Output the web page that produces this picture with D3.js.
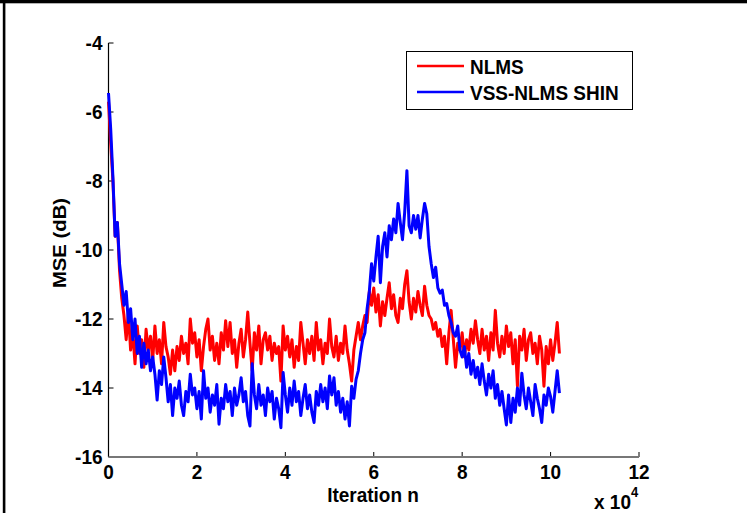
<!DOCTYPE html>
<html>
<head>
<meta charset="utf-8">
<script src="https://cdn.jsdelivr.net/npm/d3@7"></script>
<style>
  html, body { margin: 0; padding: 0; background: #fff; }
  svg { display: block; }
  text { font-family: "Liberation Sans", Arial, Helvetica, sans-serif; font-weight: bold; fill: #000; }
</style>
</head>
<body>
<svg id="chart" width="747" height="513"></svg>
<script>
// Sampling interval of the learning curves (iterations, in units of 10^4)
const sampleStep = 0.05;

// MSE (dB) of the standard NLMS filter
const nlmsMse = [
  -5.7, -6.9, -8.0, -9.6, -9.2, -10.6, -11.4, -11.9, -12.6, -11.8,
  -12.9, -12.4, -13.3, -12.2, -13.0, -12.6, -13.4, -12.3, -12.9, -12.5,
  -13.2, -12.2, -13.0, -12.6, -13.3, -12.1, -12.8, -13.1, -13.6, -12.9,
  -13.5, -12.8, -13.2, -12.5, -13.0, -12.7, -13.3, -12.0, -12.7, -12.4,
  -13.1, -12.6, -13.5, -12.8, -12.3, -12.0, -12.9, -12.5, -13.2, -12.7,
  -13.3, -12.4, -12.9, -12.05, -12.8, -12.1, -13.0, -12.6, -13.4, -12.7,
  -12.3, -13.1, -12.6, -11.8, -12.7, -13.5, -12.4, -12.9, -12.2, -13.3,
  -12.6, -12.4, -12.9, -12.5, -13.2, -12.7, -13.0, -12.8, -13.8, -12.2,
  -12.9, -12.5, -13.1, -12.6, -13.4, -12.8, -13.2, -12.1, -12.7, -13.3,
  -12.6, -13.0, -12.5, -13.2, -12.1, -12.9, -12.6, -13.3, -12.7, -13.0,
  -12.0, -12.8, -13.1, -12.5, -13.2, -12.7, -13.0, -12.2, -12.9, -13.3,
  -13.8, -12.9, -12.5, -12.1, -12.6, -12.2, -11.9, -12.1, -11.2, -11.6,
  -11.1, -11.8, -11.3, -12.2, -11.5, -11.9, -11.4, -10.95, -11.7, -11.3,
  -11.9, -12.1, -11.4, -11.7, -11.0, -10.6, -11.5, -12.0, -11.4, -11.8,
  -11.2, -11.6, -11.9, -11.05, -11.6, -11.9, -12.0, -12.3, -12.1, -12.5,
  -12.3, -12.8, -12.5, -13.3, -12.4, -11.75, -12.6, -13.4, -12.7, -12.9,
  -12.4, -13.1, -12.6, -12.9, -12.3, -12.7, -12.05, -12.6, -13.0, -12.3,
  -12.9, -12.5, -13.2, -12.4, -12.9, -11.75, -12.7, -13.1, -12.5, -13.0,
  -12.2, -12.8, -12.4, -13.3, -12.6, -13.95, -12.5, -12.9, -12.3, -13.2,
  -12.6, -12.4, -13.0, -12.7, -13.3, -12.5, -12.9, -13.95, -12.8, -13.3,
  -12.6, -13.2, -12.7, -12.1, -13.0
];

// MSE (dB) of the variable step-size NLMS (Shin)
const vssMse = [
  -5.45, -6.5, -7.9, -9.6, -9.2, -10.4, -11.0, -11.6, -11.2, -12.1,
  -11.7, -12.6, -12.0, -13.0, -12.5, -13.4, -12.7, -13.3, -12.9, -13.5,
  -13.1, -13.6, -14.35, -13.5, -13.9, -13.1, -13.7, -14.4, -13.9, -14.8,
  -14.0, -14.3, -13.8, -14.5, -14.8, -14.1, -14.4, -13.6, -14.2, -14.0,
  -14.6, -14.1, -14.9, -13.5, -14.3, -14.0, -14.7, -14.2, -14.5, -13.9,
  -15.05, -14.3, -14.6, -13.9, -14.4, -14.1, -14.8, -14.0, -14.5, -14.2,
  -13.7, -14.4, -14.1, -14.8, -15.1, -13.3, -14.2, -14.6, -13.9, -14.5,
  -14.2, -14.8, -14.0, -14.4, -14.1, -14.9, -14.3, -14.6, -15.15, -13.55,
  -14.2, -14.7, -14.0, -14.5, -13.8, -14.4, -14.1, -14.8, -14.3, -13.9,
  -14.6, -14.2, -14.7, -15.0, -14.1, -14.5, -13.9, -14.4, -14.0, -14.6,
  -13.65, -14.2, -13.7, -14.5, -14.1, -14.7, -14.3, -14.9, -14.4, -15.1,
  -13.95, -14.3, -13.75, -13.5, -13.0, -12.6, -12.4, -11.7, -11.2, -10.4,
  -10.9, -10.2, -9.6, -10.95, -9.9, -9.5, -10.2, -9.3, -9.7, -9.1,
  -9.5, -8.65, -9.2, -9.7, -8.9, -7.7, -9.3, -9.5, -9.0, -9.4,
  -9.0, -9.65, -9.1, -8.65, -8.95, -9.9, -10.4, -10.8, -10.5, -11.1,
  -11.25, -11.16, -11.6, -11.55, -11.9, -12.1, -12.4, -12.5, -12.2, -12.9,
  -13.1, -12.8, -13.4, -13.0, -13.6, -13.2, -13.7, -13.4, -13.9, -13.3,
  -13.8, -14.2, -13.6, -14.0, -13.5, -14.3, -13.9, -14.5, -14.1, -14.6,
  -15.07, -14.2, -15.0, -14.3, -14.7, -14.0, -14.5, -13.57, -14.2, -14.6,
  -14.0, -14.4, -14.8, -13.9, -14.3, -14.6, -15.0, -14.2, -14.5, -14.0,
  -14.25, -14.7, -14.1, -13.5, -14.15
];

const seriesNames = ["NLMS", "VSS-NLMS SHIN"];
const seriesColors = ["#ff0000", "#0000ff"];
const xTicks = [0, 2, 4, 6, 8, 10, 12];
const yTicks = [-16, -14, -12, -10, -8, -6, -4];

const svg = d3.select("#chart");
// glyphs are drawn slightly taller than wide
const stretch = 1.07;
function label(parent, px, py, str, anchor, rot) {
  return parent.append("text")
    .attr("transform", `translate(${px},${py})${rot ? " rotate(" + rot + ")" : ""} scale(${rot ? stretch + ",1" : "1," + stretch})`)
    .attr("text-anchor", anchor).attr("font-size", 19).text(str);
}

// figure frame edges
svg.append("rect").attr("x", 0).attr("y", 0).attr("width", 747).attr("height", 3.3).attr("fill", "#000");
svg.append("rect").attr("x", 2.8).attr("y", 0).attr("width", 2.6).attr("height", 513).attr("fill", "#000");

const x = d3.scaleLinear().domain([0, 12]).range([108.5, 639]);
const y = d3.scaleLinear().domain([-16, -4]).range([457, 43]);

// left axis (black), ticks pointing inward
const yAxis = svg.append("g");
yAxis.append("line").attr("x1", x(0)).attr("x2", x(0)).attr("y1", y(-4)).attr("y2", y(-16))
  .attr("stroke", "#000").attr("stroke-width", 1.2);
yAxis.selectAll("line.tick").data(yTicks).join("line").attr("class", "tick")
  .attr("x1", x(0)).attr("x2", x(0) + 5).attr("y1", d => y(d)).attr("y2", d => y(d))
  .attr("stroke", "#000").attr("stroke-width", 1);
yTicks.forEach(d => label(yAxis, x(0) - 6, y(d) + 7.3, String(d), "end"));

// bottom axis (grey), ticks pointing inward
const xAxis = svg.append("g");
xAxis.selectAll("line.tick").data(xTicks).join("line").attr("class", "tick")
  .attr("x1", d => x(d)).attr("x2", d => x(d)).attr("y1", y(-16)).attr("y2", y(-16) - 5)
  .attr("stroke", "#000").attr("stroke-width", 1);
xAxis.append("line").attr("x1", x(0)).attr("x2", x(12)).attr("y1", y(-16)).attr("y2", y(-16))
  .attr("stroke", "#777").attr("stroke-width", 2);
xTicks.forEach(d => label(xAxis, x(d), 479, String(d), "middle"));

// axis titles and exponent
label(svg, 373, 502, "Iteration n", "middle");
label(svg, 66, 243, "MSE (dB)", "middle", -90);
const expo = label(svg, 594, 509, "", "start");
expo.append("tspan").text("x 10");
expo.append("tspan").attr("font-size", 13).attr("dy", -11).text("4");

// learning curves
const line = d3.line().x((d, i) => x(i * sampleStep)).y(d => y(d));
[nlmsMse, vssMse].forEach((vals, k) => {
  svg.append("path").datum(vals).attr("d", line)
    .attr("fill", "none").attr("stroke", seriesColors[k])
    .attr("stroke-width", 3).attr("stroke-linejoin", "round");
});

// legend
const lg = svg.append("g");
lg.append("rect").attr("x", 406.5).attr("y", 51.5).attr("width", 226).attr("height", 58)
  .attr("fill", "#fff").attr("stroke", "#000").attr("stroke-width", 1);
const rowsY = [66, 92];
seriesNames.forEach((name, k) => {
  lg.append("line").attr("x1", 417).attr("x2", 464).attr("y1", rowsY[k]).attr("y2", rowsY[k])
    .attr("stroke", seriesColors[k]).attr("stroke-width", 2.6);
  label(lg, 470, rowsY[k] + 8.3, name, "start");
});
</script>
</body>
</html>
